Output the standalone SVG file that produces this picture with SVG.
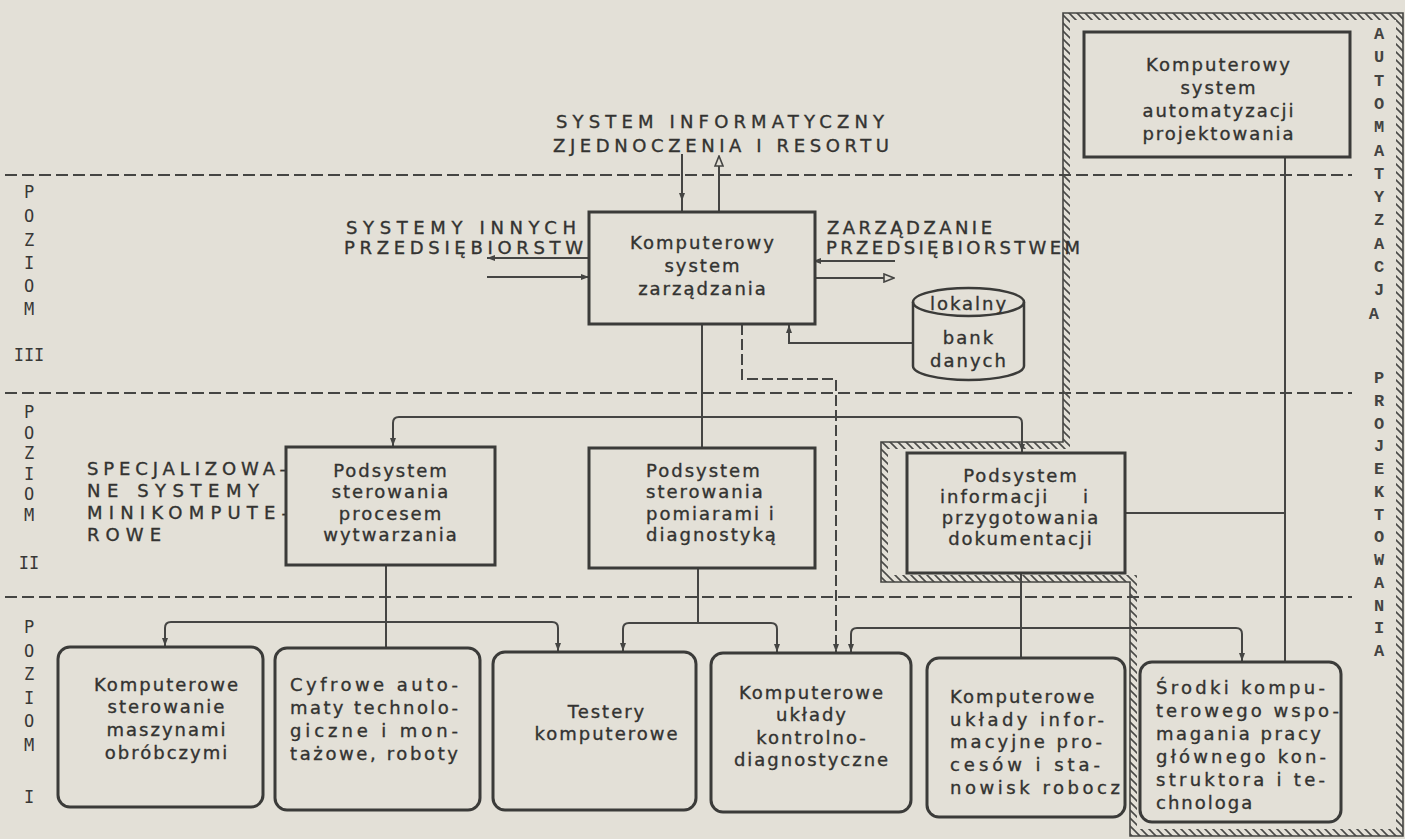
<svg xmlns="http://www.w3.org/2000/svg" width="1405" height="839" viewBox="0 0 1405 839">
<defs>
<style>
.t{font-family:"DejaVu Sans","Liberation Sans",sans-serif;font-size:18px;letter-spacing:2px;fill:#333331;stroke:#333331;stroke-width:0.35}
.c{text-anchor:middle}
.cap{font-family:"DejaVu Sans","Liberation Sans",sans-serif;font-size:18px;fill:#333331;stroke:#333331;stroke-width:0.35}
.lv{font-family:"DejaVu Sans Mono","Liberation Mono",monospace;font-size:17px;fill:#383836;text-anchor:middle}
.ap{font-family:"Liberation Mono","DejaVu Sans Mono",monospace;font-size:17px;font-weight:bold;fill:#444442;text-anchor:middle}
.box{fill:#e3e0d7;stroke:#3b3b39;stroke-width:3}
.ln{fill:none;stroke:#454543;stroke-width:2}
.dash{fill:none;stroke:#454543;stroke-width:2;stroke-dasharray:11 4}
.lvl{fill:none;stroke:#454543;stroke-width:2.2;stroke-dasharray:12 5}
.edge{fill:none;stroke:#454543;stroke-width:1.6}
</style>
<marker id="ah" viewBox="0 0 8 6" refX="8" refY="3" markerWidth="8" markerHeight="6" orient="auto" markerUnits="userSpaceOnUse">
<path d="M0,0 L8,3 L0,6 Z" fill="#454543"/>
</marker>
<marker id="ao" viewBox="0 0 12 10" refX="11" refY="5" markerWidth="12" markerHeight="10" orient="auto" markerUnits="userSpaceOnUse">
<path d="M1,1 L11,5 L1,9 Z" fill="#e3e0d7" stroke="#454543" stroke-width="1.6"/>
</marker>
<pattern id="hatch" patternUnits="userSpaceOnUse" width="8" height="8">
<path d="M0,0 L8,8 M-1,7 L1,9 M7,-1 L9,1" stroke="#4a4a48" stroke-width="1.6"/>
</pattern>
</defs>

<!-- paper -->
<rect x="0" y="0" width="1405" height="839" fill="#e3e0d7"/>

<!-- level separators -->
<g id="levels">
<path class="lvl" d="M5,175 H1352"/>
<path class="lvl" d="M5,393 H1352"/>
<path class="lvl" d="M5,597 H1352"/>
</g>

<!-- design automation zone: hatched border -->
<g id="zone-automatyzacja">
<path d="M1066.5,16.5 H1399.5 V832.5 H1133.5 V578.5 H884.5 V445.5 H1066.5 Z" fill="none" stroke="url(#hatch)" stroke-width="7"/>
<path class="edge" d="M1063,13 H1403 V836 H1130 V582 H881 V442 H1063 Z"/>
<text class="ap">
<tspan x="1379" y="39">A</tspan><tspan x="1379" y="62">U</tspan><tspan x="1379" y="86">T</tspan><tspan x="1379" y="109">O</tspan><tspan x="1379" y="132">M</tspan><tspan x="1379" y="156">A</tspan><tspan x="1379" y="179">T</tspan><tspan x="1379" y="202">Y</tspan><tspan x="1379" y="225">Z</tspan><tspan x="1379" y="249">A</tspan><tspan x="1379" y="272">C</tspan><tspan x="1379" y="295">J</tspan><tspan x="1379" y="319">A</tspan>
<tspan x="1379" y="383">P</tspan><tspan x="1379" y="406">R</tspan><tspan x="1379" y="429">O</tspan><tspan x="1379" y="451">J</tspan><tspan x="1379" y="474">E</tspan><tspan x="1379" y="497">K</tspan><tspan x="1379" y="520">T</tspan><tspan x="1379" y="542">O</tspan><tspan x="1379" y="565">W</tspan><tspan x="1379" y="588">A</tspan><tspan x="1379" y="611">N</tspan><tspan x="1379" y="633">I</tspan><tspan x="1379" y="656">A</tspan>
</text>
</g>

<!-- level labels -->
<g id="level-labels">
<text class="lv"><tspan x="29" y="198">P</tspan><tspan x="29" y="222">O</tspan><tspan x="29" y="246">Z</tspan><tspan x="29" y="269">I</tspan><tspan x="29" y="292">O</tspan><tspan x="29" y="315">M</tspan><tspan x="29" y="361">III</tspan></text>
<text class="lv"><tspan x="29" y="418">P</tspan><tspan x="29" y="439">O</tspan><tspan x="29" y="459">Z</tspan><tspan x="29" y="480">I</tspan><tspan x="29" y="500">O</tspan><tspan x="29" y="521">M</tspan><tspan x="29" y="569">II</tspan></text>
<text class="lv"><tspan x="29" y="633">P</tspan><tspan x="29" y="657">O</tspan><tspan x="29" y="680">Z</tspan><tspan x="29" y="704">I</tspan><tspan x="29" y="727">O</tspan><tspan x="29" y="751">M</tspan><tspan x="29" y="803">I</tspan></text>
</g>

<!-- outside systems and labels -->
<g id="n-resort">
<text class="cap" x="556" y="128" textLength="328" lengthAdjust="spacing">SYSTEM INFORMATYCZNY</text>
<text class="cap" x="553" y="152" textLength="336" lengthAdjust="spacing">ZJEDNOCZENIA I RESORTU</text>
</g>
<g id="n-inne">
<text class="cap" x="346" y="234" textLength="230" lengthAdjust="spacing">SYSTEMY INNYCH</text>
<text class="cap" x="344" y="254" textLength="239" lengthAdjust="spacing">PRZEDSIĘBIORSTW</text>
</g>
<g id="n-zarzadzanie">
<text class="cap" x="827" y="234" textLength="165" lengthAdjust="spacing">ZARZĄDZANIE</text>
<text class="cap" x="826" y="254" textLength="254" lengthAdjust="spacing">PRZEDSIĘBIORSTWEM</text>
</g>
<g id="n-mini">
<text class="cap" x="87" y="475" textLength="199" lengthAdjust="spacing">SPECJALIZOWA-</text>
<text class="cap" x="87" y="497" textLength="172" lengthAdjust="spacing">NE SYSTEMY</text>
<text class="cap" x="87" y="519" textLength="201" lengthAdjust="spacing">MINIKOMPUTE-</text>
<text class="cap" x="87" y="541" textLength="74" lengthAdjust="spacing">ROWE</text>
</g>

<!-- connectors -->
<g id="connectors">
<path class="ln" d="M682,154 V201" marker-end="url(#ah)"/>
<path class="ln" d="M682,198 V212"/>
<path class="ln" d="M719,212 V156" marker-end="url(#ao)"/>
<path class="ln" d="M589,258 H487" marker-end="url(#ah)"/>
<path class="ln" d="M487,277 H589" marker-end="url(#ah)"/>
<path class="ln" d="M895,261 H813" marker-end="url(#ah)"/>
<path class="ln" d="M812,278 H894" marker-end="url(#ao)"/>
<path class="ln" d="M913,343 H789 V325" marker-end="url(#ah)"/>
<path class="dash" d="M742,324 V379 H836 V652" marker-end="url(#ah)"/>
<path class="ln" d="M702,324 V448"/>
<path class="ln" d="M702,417 H399 Q393,417 393,423 V446" marker-end="url(#ah)"/>
<path class="ln" d="M702,417 H1016 Q1022,417 1022,423 V452" marker-end="url(#ah)"/>
<path class="ln" d="M386,565 V648"/>
<path class="ln" d="M386,622 H171 Q165,622 165,628 V646" marker-end="url(#ah)"/>
<path class="ln" d="M386,622 H552 Q558,622 558,628 V651" marker-end="url(#ah)"/>
<path class="ln" d="M698,568 V623 H629 Q623,623 623,629 V651" marker-end="url(#ah)"/>
<path class="ln" d="M698,623 H771 Q777,623 777,629 V652" marker-end="url(#ah)"/>
<path class="ln" d="M1021,573 V658"/>
<path class="ln" d="M1021,628 H857 Q851,628 851,634 V652" marker-end="url(#ah)"/>
<path class="ln" d="M1021,628 H1236 Q1242,628 1242,634 V661" marker-end="url(#ah)"/>
<path class="ln" d="M1285,157 V662"/>
<path class="ln" d="M1125,513 H1285"/>
</g>

<!-- level III -->
<g id="n-ksz">
<rect class="box" x="589" y="212" width="226" height="112"/>
<text class="t c" x="703" y="249">Komputerowy</text>
<text class="t c" x="703" y="272">system</text>
<text class="t c" x="703" y="295">zarządzania</text>
</g>
<g id="n-bank">
<path d="M913,302 A55.5,14 0 0 1 1024,302 V366 A55.5,14 0 0 1 913,366 Z" fill="#e3e0d7" stroke="#3b3b39" stroke-width="2.5"/>
<path d="M913,302 A55.5,14 0 0 0 1024,302" fill="none" stroke="#3b3b39" stroke-width="2.5"/>
<text class="t c" x="969" y="310">lokalny</text>
<text class="t c" x="969" y="344">bank</text>
<text class="t c" x="969" y="367">danych</text>
</g>
<g id="n-cad">
<rect class="box" x="1084" y="32" width="266" height="125"/>
<text class="t c" x="1219" y="71">Komputerowy</text>
<text class="t c" x="1219" y="94">system</text>
<text class="t c" x="1219" y="117">automatyzacji</text>
<text class="t c" x="1219" y="140">projektowania</text>
</g>

<!-- level II -->
<g id="n-proces">
<rect class="box" x="286" y="447" width="209" height="118"/>
<text class="t c" x="391" y="477">Podsystem</text>
<text class="t c" x="391" y="498">sterowania</text>
<text class="t c" x="391" y="520">procesem</text>
<text class="t c" x="391" y="541">wytwarzania</text>
</g>
<g id="n-pomiary">
<rect class="box" x="589" y="448" width="226" height="120"/>
<text class="t" x="646" y="477">Podsystem</text>
<text class="t" x="646" y="498">sterowania</text>
<text class="t" x="646" y="520">pomiarami i</text>
<text class="t" x="646" y="541">diagnostyką</text>
</g>
<g id="n-dokumentacja">
<rect class="box" x="907" y="453" width="218" height="120"/>
<text class="t c" x="1021" y="482">Podsystem</text>
<text class="t"><tspan x="940" y="503">informacji</tspan><tspan x="1083" y="503">i</tspan></text>
<text class="t c" x="1021" y="524">przygotowania</text>
<text class="t c" x="1021" y="545">dokumentacji</text>
</g>

<!-- level I -->
<g id="n-maszyny">
<rect class="box" x="58" y="647" width="205" height="160" rx="12"/>
<text class="t c" x="167" y="691">Komputerowe</text>
<text class="t c" x="167" y="713">sterowanie</text>
<text class="t c" x="167" y="736">maszynami</text>
<text class="t c" x="167" y="759">obróbczymi</text>
</g>
<g id="n-automaty">
<rect class="box" x="275" y="648" width="205" height="162" rx="12"/>
<text class="t" x="290" y="691" textLength="170" lengthAdjust="spacing">Cyfrowe auto-</text>
<text class="t" x="290" y="714" textLength="170" lengthAdjust="spacing">maty technolo-</text>
<text class="t" x="290" y="737" textLength="170" lengthAdjust="spacing">giczne i mon-</text>
<text class="t" x="290" y="760" textLength="170" lengthAdjust="spacing">tażowe, roboty</text>
</g>
<g id="n-testery">
<rect class="box" x="493" y="652" width="203" height="158" rx="12"/>
<text class="t c" x="607" y="718">Testery</text>
<text class="t c" x="607" y="740">komputerowe</text>
</g>
<g id="n-kontrola">
<rect class="box" x="711" y="653" width="200" height="159" rx="12"/>
<text class="t c" x="812" y="699">Komputerowe</text>
<text class="t c" x="812" y="721">układy</text>
<text class="t c" x="812" y="744">kontrolno-</text>
<text class="t c" x="812" y="766">diagnostyczne</text>
</g>
<g id="n-informacja">
<rect class="box" x="927" y="658" width="198" height="159" rx="12"/>
<text class="t" x="950" y="703">Komputerowe</text>
<text class="t" x="950" y="726" textLength="156" lengthAdjust="spacing">układy infor-</text>
<text class="t" x="950" y="748" textLength="154" lengthAdjust="spacing">macyjne pro-</text>
<text class="t" x="950" y="771" textLength="152" lengthAdjust="spacing">cesów i sta-</text>
<text class="t" x="950" y="794" textLength="172" lengthAdjust="spacing">nowisk robocz</text>
</g>
<g id="n-konstruktor">
<rect class="box" x="1140" y="662" width="201" height="160" rx="12"/>
<text class="t" x="1156" y="694" textLength="171" lengthAdjust="spacing">Środki kompu-</text>
<text class="t" x="1156" y="717" textLength="185" lengthAdjust="spacing">terowego wspo-</text>
<text class="t" x="1156" y="740" textLength="167" lengthAdjust="spacing">magania pracy</text>
<text class="t" x="1156" y="763" textLength="172" lengthAdjust="spacing">głównego kon-</text>
<text class="t" x="1156" y="786" textLength="171" lengthAdjust="spacing">struktora i te-</text>
<text class="t" x="1156" y="809">chnologa</text>
</g>
</svg>
